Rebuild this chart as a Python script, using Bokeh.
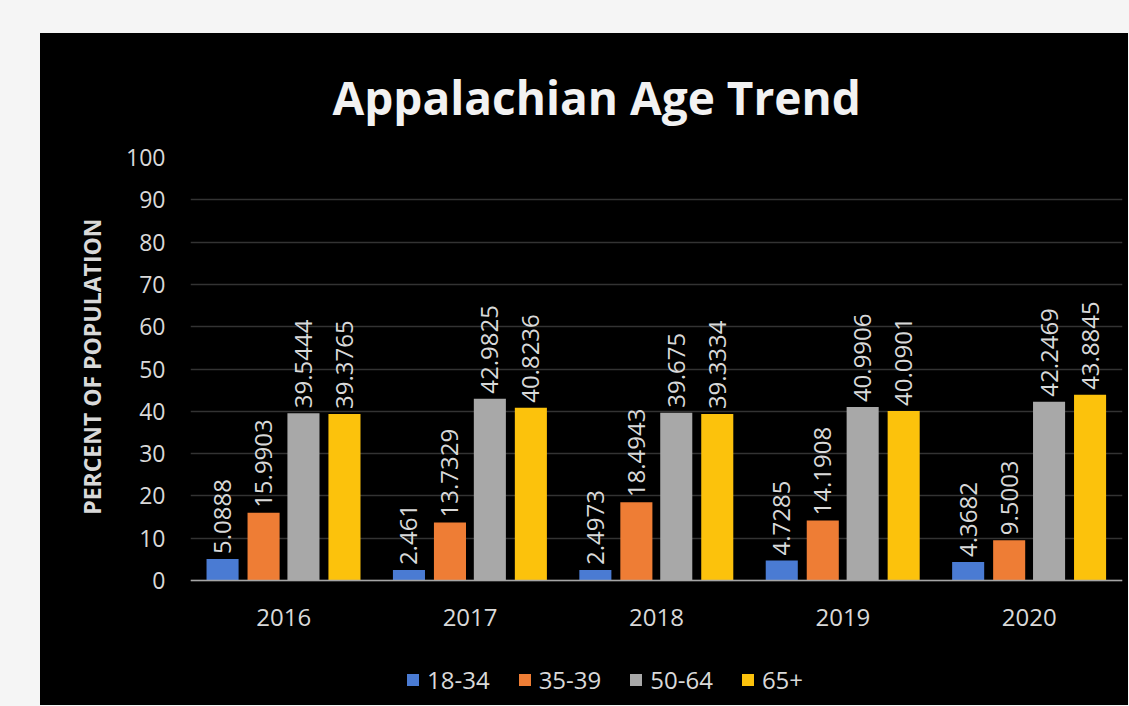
from math import pi
from bokeh.plotting import figure
from bokeh.models import (FactorRange, Range1d, FixedTicker, Legend, LegendItem,
                          ColumnDataSource, Title)
from bokeh.transform import dodge
from bokeh.core.properties import value
from bokeh.embed import file_html
from bokeh.resources import INLINE

years = ["2016", "2017", "2018", "2019", "2020"]
groups = ["18-34", "35-39", "50-64", "65+"]
age_18_34 = [5.0888, 2.461, 2.4973, 4.7285, 4.3682]
age_35_39 = [15.9903, 13.7329, 18.4943, 14.1908, 9.5003]
age_50_64 = [39.5444, 42.9825, 39.675, 40.9906, 42.2469]
age_65_plus = [39.3765, 40.8236, 39.3334, 40.0901, 43.8845]
label_18_34 = ["5.0888", "2.461", "2.4973", "4.7285", "4.3682"]
label_35_39 = ["15.9903", "13.7329", "18.4943", "14.1908", "9.5003"]
label_50_64 = ["39.5444", "42.9825", "39.675", "40.9906", "42.2469"]
label_65_plus = ["39.3765", "40.8236", "39.3334", "40.0901", "43.8845"]
y_ticks = [0, 10, 20, 30, 40, 50, 60, 70, 80, 90, 100]

series = [age_18_34, age_35_39, age_50_64, age_65_plus]
labels = [label_18_34, label_35_39, label_50_64, label_65_plus]
colors = ["#4a7bd3", "#ee7d35", "#a8a8a8", "#fcc20c"]
offsets = [-0.328, -0.108, 0.106, 0.326]
FONT = "Open Sans"
TXT = "#d9d9d9"

# frame runs from the top gridline down to the bottom of the chart area;
# the space under 0 holds the category labels and the legend
p = figure(x_range=FactorRange(factors=years), y_range=Range1d(-28.13, 100),
           width=1088, height=672, output_backend="svg", toolbar_location=None,
           min_border_left=150, min_border_right=6, min_border_top=124, min_border_bottom=6)
p.margin = (33, 0, 0, 40)
p.styles = {"background-color": "black"}
p.background_fill_color = "black"
p.border_fill_color = "black"
p.outline_line_color = None

p.title.text = "Appalachian Age Trend"
p.title.align = "left"
p.title.text_font = FONT
p.title.text_font_size = "46px"
p.title.text_font_style = "bold"
p.title.text_color = "#f2f2f2"
p.title.standoff = 60
p.title.offset = 142

items = []
for vals, labs, col, off, name in zip(series, labels, colors, offsets, groups):
    src = ColumnDataSource(dict(x=years, top=vals, lab=labs))
    r = p.vbar(x=dodge("x", off, range=p.x_range), top="top", bottom=0, width=0.172,
               source=src, fill_color=col, line_color=None)
    p.text(x=dodge("x", off, range=p.x_range), y="top", text="lab", source=src,
           angle=pi / 2, text_align="left", text_baseline="middle", y_offset=-5,
           text_font=value(FONT), text_font_size="24px", text_color=TXT)
    items.append(LegendItem(label=name, renderers=[r]))

p.xgrid.grid_line_color = None
p.ygrid.grid_line_color = "#333333"
p.ygrid.grid_line_width = 1.5

p.yaxis.ticker = FixedTicker(ticks=y_ticks)
p.yaxis.axis_line_color = None
p.yaxis.major_tick_line_color = None
p.yaxis.minor_tick_line_color = None
p.yaxis.major_tick_out = 0
p.yaxis.major_label_standoff = 25
p.yaxis.major_label_text_font = FONT
p.yaxis.major_label_text_font_size = "23px"
p.yaxis.major_label_text_color = TXT

ylab = Title(text="PERCENT OF POPULATION", align="right", offset=61, standoff=32,
             text_font=FONT, text_font_size="23px", text_font_style="bold", text_color=TXT)
p.add_layout(ylab, "left")

p.xaxis.fixed_location = 0
p.xaxis.axis_line_color = "#a6a6a6"
p.xaxis.axis_line_width = 1.5
p.xaxis.major_tick_line_color = None
p.xaxis.major_tick_out = 0
p.xaxis.major_label_standoff = 28
p.xaxis.major_label_text_font = FONT
p.xaxis.major_label_text_font_size = "24px"
p.xaxis.major_label_text_color = TXT

legend = Legend(items=items, orientation="horizontal", location=(215, 3),
                glyph_width=15, glyph_height=15, label_standoff=7, spacing=27,
                padding=0, margin=0, border_line_color=None, background_fill_alpha=0,
                label_text_font=FONT, label_text_font_size="24px", label_text_color=TXT)
p.add_layout(legend)

html = file_html(p, INLINE)
html = html.replace("</head>", "<style>body{background:#f5f5f5;}</style></head>", 1)
open("out.html", "w").write(html)
